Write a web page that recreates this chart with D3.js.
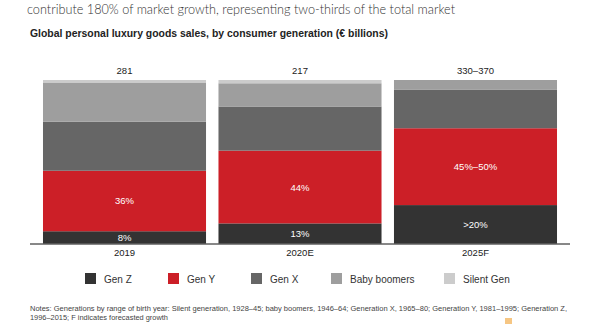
<!DOCTYPE html>
<html>
<head>
<meta charset="utf-8">
<script src="https://cdn.jsdelivr.net/npm/d3@7"></script>
<style>
  body { margin: 0; background: #fff; }
  svg text { font-family: "Liberation Sans", Arial, sans-serif; }
</style>
</head>
<body>
<svg id="chart" width="600" height="324"></svg>
<script>
// Data (shares of each year's sales, %)
var categories = ["2019", "2020E", "2025F"];
var totals = ["281", "217", "330–370"];
var genZ = [7.5, 12.3, 23.5];
var genY = [37, 44.5, 47];
var genX = [30, 27, 23.7];
var boomers = [24, 14.2, 5.8];
var silent = [1.5, 2, 0];
var genZLabels = ["8%", "13%", ">20%"];
var genYLabels = ["36%", "44%", "45%–50%"];
var seriesNames = ["Gen Z", "Gen Y", "Gen X", "Baby boomers", "Silent Gen"];
var colors = ["#333333", "#cc1f27", "#666666", "#9e9e9e", "#cccccc"];

var svg = d3.select("svg#chart");

// Header texts
svg.append("text").attr("x", 27).attr("y", 14)
    .style("font-family", "Lato, 'Open Sans', sans-serif").style("font-weight", 300)
    .style("font-size", "14px").attr("fill", "#333")
    .attr("textLength", 428).attr("lengthAdjust", "spacingAndGlyphs")
    .text("contribute 180% of market growth, representing two-thirds of the total market");

svg.append("text").attr("x", 30).attr("y", 37)
    .style("font-size", "10px").style("font-weight", "bold").attr("fill", "#222")
    .attr("textLength", 358).attr("lengthAdjust", "spacingAndGlyphs")
    .text("Global personal luxury goods sales, by consumer generation (€ billions)");

// Scales
var x = d3.scaleBand().domain(categories).range([30, 570]).paddingInner(0.071).paddingOuter(0.074);
var y = d3.scaleLinear().domain([0, 100]).range([243.5, 80]);

var rows = categories.map(function(c, i) {
    return { cat: c, "Gen Z": genZ[i], "Gen Y": genY[i], "Gen X": genX[i], "Baby boomers": boomers[i], "Silent Gen": silent[i] };
});
var stack = d3.stack().keys(seriesNames)(rows);

// Bars
svg.append("g").selectAll("g").data(stack).enter().append("g")
    .attr("fill", function(d, i) { return colors[i]; })
    .selectAll("rect").data(function(d) { return d; }).enter().append("rect")
    .attr("x", function(d) { return x(d.data.cat); })
    .attr("y", function(d) { return y(d[1]); })
    .attr("width", x.bandwidth())
    .attr("height", function(d) { return y(d[0]) - y(d[1]); });

// Baseline
svg.append("line").attr("x1", 30).attr("x2", 570).attr("y1", y(0) + 0.5).attr("y2", y(0) + 0.5)
    .attr("stroke", "#111").attr("stroke-width", 1);

// Segment labels
function segLabels(serieIdx, labels) {
    svg.append("g").selectAll("text").data(stack[serieIdx]).enter().append("text")
        .attr("x", function(d) { return x(d.data.cat) + x.bandwidth() / 2; })
        .attr("y", function(d) { return (y(d[0]) + y(d[1])) / 2 + 3.5; })
        .attr("text-anchor", "middle").style("font-size", "9.5px").attr("fill", "#fff")
        .text(function(d, i) { return labels[i]; });
}
segLabels(0, genZLabels);
segLabels(1, genYLabels);

// Totals above bars
svg.append("g").selectAll("text").data(categories).enter().append("text")
    .attr("x", function(d) { return x(d) + x.bandwidth() / 2; })
    .attr("y", 74).attr("text-anchor", "middle").style("font-size", "9.5px").attr("fill", "#222")
    .text(function(d, i) { return totals[i]; });

// Category axis
var xAxis = svg.append("g").attr("transform", "translate(0," + y(0) + ")")
    .call(d3.axisBottom(x).tickSize(0).tickPadding(6));
xAxis.select(".domain").remove();
xAxis.selectAll("text").style("font-size", "9.5px").attr("fill", "#222")
    .style("font-family", "'Liberation Sans', Arial, sans-serif");

// Legend
var legendX = [85, 168, 251, 331, 444];
var legend = svg.append("g").selectAll("g").data(seriesNames).enter().append("g")
    .attr("transform", function(d, i) { return "translate(" + legendX[i] + ",273)"; });
legend.append("rect").attr("width", 11).attr("height", 11)
    .attr("fill", function(d, i) { return colors[i]; });
legend.append("text").attr("x", 19).attr("y", 9.5).style("font-size", "10px").attr("fill", "#333")
    .text(function(d) { return d; });

// Notes
svg.append("text").attr("x", 30).attr("y", 311).style("font-size", "7.5px").attr("fill", "#444")
    .attr("textLength", 537).attr("lengthAdjust", "spacingAndGlyphs")
    .text("Notes: Generations by range of birth year: Silent generation, 1928–45; baby boomers, 1946–64; Generation X, 1965–80; Generation Y, 1981–1995; Generation Z,");
svg.append("text").attr("x", 30).attr("y", 320).style("font-size", "7.5px").attr("fill", "#444")
    .attr("textLength", 138).attr("lengthAdjust", "spacingAndGlyphs")
    .text("1996–2015; F indicates forecasted growth");

// faint logo mark, bottom right
svg.append("rect").attr("x", 505).attr("y", 318).attr("width", 7).attr("height", 6).attr("fill", "#f0a030").attr("opacity", 0.6);
</script>
</body>
</html>
